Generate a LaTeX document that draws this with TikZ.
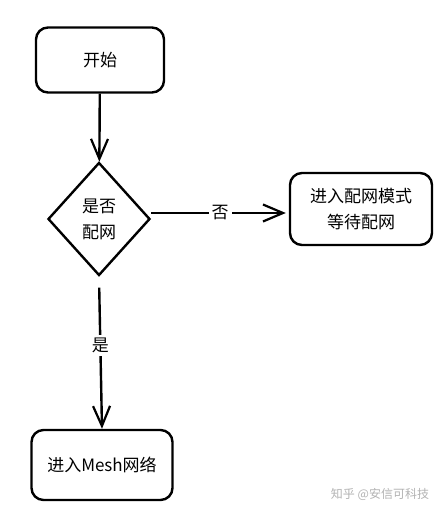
\documentclass[tikz,border=0pt]{standalone}
\usepackage{fontspec}
\setmainfont{Noto Sans CJK SC}
\usetikzlibrary{shapes.geometric,arrows.meta}

\begin{document}
\begin{tikzpicture}[x=1pt,y=-1pt,
    line width=2.4pt,
    every node/.style={font=\fontsize{17}{26}\selectfont},
    stepbox/.style={draw,rounded corners=12pt,align=center},
    choice/.style={draw,diamond,minimum width=102pt,minimum height=113pt,align=center,inner sep=0pt},
    flow/.style={-{Straight Barb[length=20pt,width=17pt,line width=2.2pt]}},
    tag/.style={fill=white,inner sep=3pt}]
\useasboundingbox (0,0) rectangle (446,514);
\node[stepbox,minimum width=128pt,minimum height=65pt] (start) at (100,60) {开始};
\node[choice] (ask) at (99,219) {是否\\配网};
\node[stepbox,minimum width=142pt,minimum height=72pt] (wait) at (361,209) {进入配网模式\\等待配网};
\node[stepbox,minimum width=141pt,minimum height=70pt] (mesh) at (102,465) {进入Mesh网络};
\draw[flow] (start) -- (ask);
\draw[flow,shorten >=3pt] ([yshift=6pt]ask.east) -- node[tag] {否} ([yshift=6pt]ask.east -| wait.west);
\draw[flow,shorten <=11pt] (ask.south) -- node[tag,pos=0.45] {是} (mesh.north);
\node[text=black!30,font=\fontsize{12}{14}\selectfont] (mark) at (380,494) {知乎 @安信可科技};
\end{tikzpicture}
\end{document}
